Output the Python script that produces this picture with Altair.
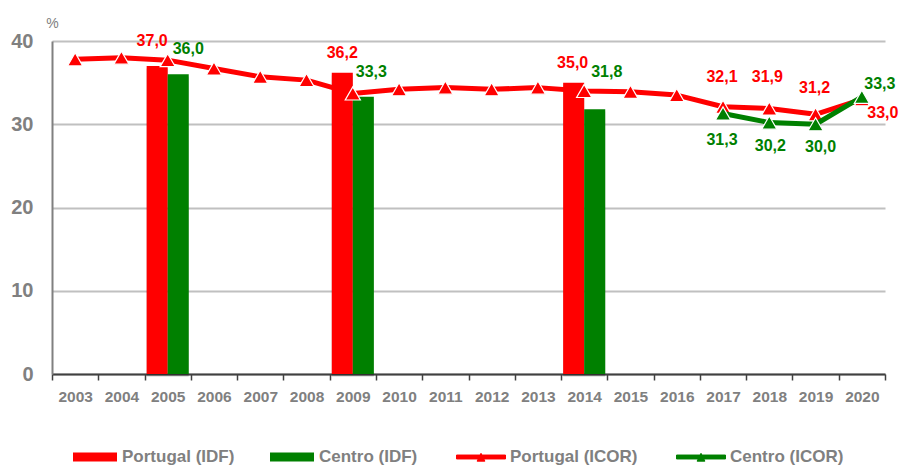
import altair as alt
import pandas as pd

# ---- data -------------------------------------------------------------
years = [str(y) for y in range(2003, 2021)]
portugal_icor = [37.8, 38.0, 37.7, 36.7, 35.7, 35.3, 33.7, 34.2, 34.4,
                 34.2, 34.4, 34.0, 33.9, 33.5, 32.1, 31.9, 31.2, 33.0]
centro_icor_years = ["2017", "2018", "2019", "2020"]
centro_icor = [31.3, 30.2, 30.0, 33.3]
idf_years = ["2005", "2009", "2014"]
portugal_idf = [37.0, 36.2, 35.0]
centro_idf = [36.0, 33.3, 31.8]

IDF_SERIES = ["Portugal (IDF)", "Centro (IDF)"]
ICOR_SERIES = ["Portugal (ICOR)", "Centro (ICOR)"]

RED = "#ff0000"
GREEN = "#008000"
GREY = "#808080"
FONT = "Liberation Sans, Arial, sans-serif"

bars_df = pd.DataFrame({
    "ano": idf_years * 2,
    "serie": [IDF_SERIES[0]] * len(idf_years) + [IDF_SERIES[1]] * len(idf_years),
    "valor": portugal_idf + centro_idf,
})
icor_df = pd.DataFrame({
    "ano": years + centro_icor_years,
    "serie": [ICOR_SERIES[0]] * len(years) + [ICOR_SERIES[1]] * len(centro_icor_years),
    "valor": portugal_icor + centro_icor,
})

LABEL_EXPR = "replace(format(datum.valor, '.1f'), '.', ',')"

# ---- shared encodings -------------------------------------------------
x_enc = alt.X(
    "ano:N",
    scale=alt.Scale(domain=years, paddingInner=0, paddingOuter=0),
    axis=alt.Axis(
        title=None, labelAngle=0, labelFont=FONT, labelFontSize=15.5,
        labelFontWeight="bold", labelColor=GREY, labelPadding=9,
        tickBand="extent", tickSize=6, tickColor="#404040", tickWidth=1.5,
        domainColor="#404040", domainWidth=2, grid=False,
    ),
)
y_enc = alt.Y(
    "valor:Q",
    scale=alt.Scale(domain=[0, 40], nice=False),
    axis=alt.Axis(
        values=[0, 10, 20, 30, 40], title="%", titleAngle=0, titleX=0,
        titleY=-18, titleAlign="center", titleBaseline="middle",
        titleFont=FONT, titleFontSize=14, titleFontWeight="normal",
        titleColor=GREY, labelFont=FONT, labelFontSize=20,
        labelFontWeight="bold", labelColor=GREY, labelPadding=19,
        ticks=False, domainColor=GREY, domainWidth=2,
        grid=True, gridColor="#c0c0c0", gridWidth=2,
    ),
)
xoff_enc = alt.XOffset(
    "serie:N",
    scale=alt.Scale(domain=IDF_SERIES, paddingInner=0, paddingOuter=0.1),
)

# ---- IDF bars ---------------------------------------------------------
bar_base = alt.Chart(bars_df).encode(x=x_enc, y=y_enc, xOffset=xoff_enc)

shadow = alt.layer(
    bar_base.mark_bar(color="#000000", opacity=0.10, xOffset=6, yOffset=3),
    bar_base.mark_bar(color="#000000", opacity=0.14, xOffset=3, yOffset=2),
)

bars = bar_base.mark_bar().encode(
    color=alt.Color(
        "serie:N",
        scale=alt.Scale(domain=IDF_SERIES, range=[RED, GREEN]),
        legend=alt.Legend(
            title=None, orient="none", direction="horizontal",
            legendX=21, legendY=394, padding=0,
            symbolType="M-1,-0.2L1,-0.2L1,0.2L-1,0.2Z", symbolSize=1936,
            symbolStrokeWidth=0, labelFont=FONT, labelFontSize=17,
            labelFontWeight="bold", labelColor=GREY, labelOffset=5,
            columnPadding=35, labelLimit=300,
        ),
    )
)


def bar_label(serie, ano, color, dx, dy):
    return (
        bar_base.transform_filter(
            (alt.datum.serie == serie) & (alt.datum.ano == ano)
        )
        .transform_calculate(rotulo=LABEL_EXPR)
        .mark_text(font=FONT, fontSize=16, fontWeight="bold", color=color,
                   dx=dx, dy=dy, baseline="middle")
        .encode(text="rotulo:N")
    )


bar_labels = [
    bar_label(IDF_SERIES[0], "2005", RED, -5, -25),
    bar_label(IDF_SERIES[0], "2009", RED, 0, -20),
    bar_label(IDF_SERIES[0], "2014", RED, -1, -20),
    bar_label(IDF_SERIES[1], "2005", GREEN, 10, -25),
    bar_label(IDF_SERIES[1], "2009", GREEN, 8, -25),
    bar_label(IDF_SERIES[1], "2014", GREEN, 12, -37),
]

idf_layer = alt.layer(shadow, bars, *bar_labels)

# ---- ICOR lines -------------------------------------------------------
icor_color = alt.Color(
    "serie:N",
    scale=alt.Scale(domain=ICOR_SERIES, range=[RED, GREEN]),
    legend=alt.Legend(
        title=None, orient="none", direction="horizontal",
        legendX=404, legendY=391, padding=0,
        symbolType="M-1,-0.08L1,-0.08L1,0.08L-1,0.08Z"
                   "M-0.16,0.17L0,-0.15L0.16,0.17Z",
        symbolSize=2401, symbolStrokeWidth=1,
        labelFont=FONT, labelFontSize=17, labelFontWeight="bold",
        labelColor=GREY, labelOffset=4, columnPadding=36, labelLimit=300,
    ),
)

icor_base = alt.Chart(icor_df).encode(x=x_enc, y=y_enc)


def icor_series(serie):
    sel = icor_base.transform_filter(alt.datum.serie == serie)
    line = sel.mark_line(strokeWidth=5, strokeJoin="round").encode(color=icor_color)
    pts = sel.mark_point(shape="triangle-up", size=230, filled=True,
                         opacity=1, stroke="white", strokeWidth=1.2
                         ).encode(color=icor_color)
    return line, pts


def icor_label(serie, ano, color, dx, dy):
    return (
        icor_base.transform_filter(
            (alt.datum.serie == serie) & (alt.datum.ano == ano)
        )
        .transform_calculate(rotulo=LABEL_EXPR)
        .mark_text(font=FONT, fontSize=16, fontWeight="bold", color=color,
                   dx=dx, dy=dy, baseline="middle")
        .encode(text="rotulo:N")
    )


pt_line, pt_pts = icor_series(ICOR_SERIES[0])
ce_line, ce_pts = icor_series(ICOR_SERIES[1])

icor_labels = [
    icor_label(ICOR_SERIES[0], "2017", RED, -1, -30),
    icor_label(ICOR_SERIES[0], "2018", RED, -2, -31),
    icor_label(ICOR_SERIES[0], "2019", RED, -1, -26),
    icor_label(ICOR_SERIES[0], "2020", RED, 21, 14),
    icor_label(ICOR_SERIES[1], "2017", GREEN, -1, 27),
    icor_label(ICOR_SERIES[1], "2018", GREEN, 1, 23),
    icor_label(ICOR_SERIES[1], "2019", GREEN, 5, 23),
    icor_label(ICOR_SERIES[1], "2020", GREEN, 18, -13),
]

icor_layer = alt.layer(pt_line, pt_pts, ce_line, ce_pts, *icor_labels)

chart = (
    alt.layer(idf_layer, icor_layer)
    .resolve_scale(color="independent")
    .properties(
        width=833, height=333,
        autosize=alt.AutoSizeParams(type="none"),
        padding={"left": 52, "top": 41, "right": 14, "bottom": 93},
        background="white",
    )
    .configure_view(stroke=None)
)

chart.save("out.html", embed_options={"renderer": "svg", "actions": False})
